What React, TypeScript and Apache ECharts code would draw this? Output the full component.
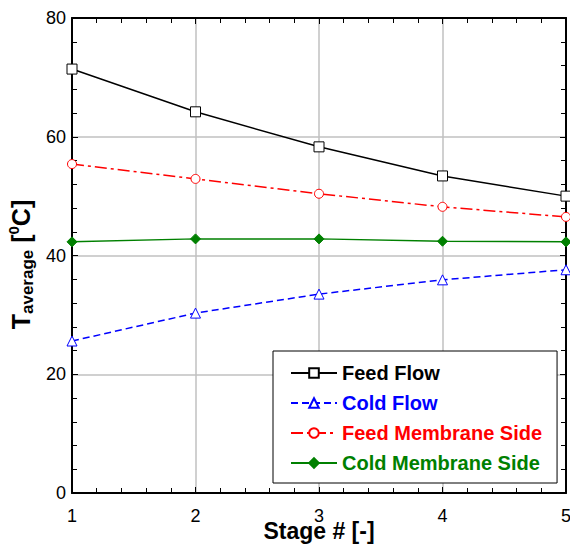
import React, { useEffect, useRef } from "react";
import * as echarts from "echarts";

const stages = [1, 2, 3, 4, 5];
const feedFlow = [71.4, 64.2, 58.3, 53.4, 50.0];
const coldFlow = [25.6, 30.3, 33.5, 35.9, 37.6];
const feedMembrane = [55.4, 52.9, 50.4, 48.2, 46.5];
const coldMembrane = [42.3, 42.8, 42.8, 42.4, 42.3];
const seriesNames = ["Feed Flow", "Cold Flow", "Feed Membrane Side", "Cold Membrane Side"];
const seriesColors = ["#000000", "#0000ff", "#ff0000", "#008000"];

const FONT = "Liberation Sans, Arial, sans-serif";

export default function App() {
  const ref = useRef<HTMLDivElement>(null);
  useEffect(() => {
    if (!ref.current) return;
    const chart = echarts.init(ref.current, undefined, { renderer: "svg" });
    const pairs = (ys: number[]) => stages.map((x, i) => [x, ys[i]]);
    const baseX = {
      type: "value",
      min: 1,
      max: 5,
      interval: 1,
      axisLine: { show: true, onZero: false, lineStyle: { color: "#000", width: 2 } },
      axisTick: { show: true, inside: true, length: 6, lineStyle: { color: "#000", width: 1 } },
      minorTick: { show: true, splitNumber: 5, length: 5, lineStyle: { color: "#000", width: 1 } },
    };
    const baseY = {
      type: "value",
      min: 0,
      max: 80,
      interval: 20,
      axisLine: { show: true, onZero: false, lineStyle: { color: "#000", width: 2 } },
      axisTick: { show: true, inside: true, length: 6, lineStyle: { color: "#000", width: 1 } },
      minorTick: { show: true, splitNumber: 5, length: 5, lineStyle: { color: "#000", width: 1 } },
    };
    const option: any = {
      animation: false,
      backgroundColor: "#fff",
      textStyle: { fontFamily: FONT },
      grid: { left: 72, right: 4, top: 18, bottom: 56, containLabel: false, outerBoundsMode: "none" },
      xAxis: [
        {
          ...baseX,
          position: "bottom",
          name: "Stage # [-]",
          nameLocation: "middle",
          nameGap: 26,
          nameMoveOverlap: false,
          nameTextStyle: { fontFamily: FONT, fontSize: 23, fontWeight: "bold", color: "#000" },
          axisLabel: { margin: 14, fontFamily: FONT, fontSize: 18, color: "#000" },
          splitLine: { show: true, lineStyle: { color: "#c0c0c0", width: 1.5 } },
        },
        {
          ...baseX,
          position: "top",
          axisLabel: { show: false },
          splitLine: { show: false },
        },
      ],
      yAxis: [
        {
          ...baseY,
          position: "left",
          name: "{t|T}{s|average}{t| [}{p|0}{t|C]}",
          nameLocation: "middle",
          nameRotate: 90,
          nameGap: 36,
          nameMoveOverlap: false,
          nameTextStyle: {
            fontFamily: FONT,
            color: "#000",
            padding: [0, 18, 0, 0],
            rich: {
              t: { fontFamily: FONT, fontSize: 25, fontWeight: "bold", lineHeight: 30, verticalAlign: "middle" },
              s: { fontFamily: FONT, fontSize: 17, fontWeight: "bold", lineHeight: 30, verticalAlign: "bottom", padding: [8, 0, 0, 0] },
              p: { fontFamily: FONT, fontSize: 15, fontWeight: "bold", lineHeight: 30, verticalAlign: "top", padding: [0, 0, 8, 0] },
            },
          },
          axisLabel: { margin: 6, fontFamily: FONT, fontSize: 18, color: "#000" },
          splitLine: { show: true, lineStyle: { color: "#c0c0c0", width: 1.5 } },
        },
        {
          ...baseY,
          position: "right",
          axisLabel: { show: false },
          splitLine: { show: false },
        },
      ],
      legend: {
        orient: "vertical",
        left: 273,
        top: 351,
        padding: [12, 15, 10, 17],
        itemGap: 10,
        itemWidth: 46,
        itemHeight: 12,
        backgroundColor: "#fff",
        borderColor: "#000",
        borderWidth: 1,
        textStyle: { fontFamily: FONT, fontSize: 20, fontWeight: "bold", lineHeight: 20 },
        data: seriesNames.map((n, i) => ({ name: n, textStyle: { color: seriesColors[i] } })),
      },
      series: [
        {
          name: seriesNames[0],
          type: "line",
          data: pairs(feedFlow),
          symbol: "rect",
          symbolSize: 10,
          lineStyle: { color: seriesColors[0], width: 1.5, type: "solid" },
          itemStyle: { color: "#fff", borderColor: seriesColors[0], borderWidth: 1 },
          z: 5,
        },
        {
          name: seriesNames[1],
          type: "line",
          data: pairs(coldFlow),
          symbol: "triangle",
          symbolSize: 10,
          lineStyle: { color: seriesColors[1], width: 1.5, type: [7, 4] },
          itemStyle: { color: "#fff", borderColor: seriesColors[1], borderWidth: 1 },
          z: 5,
        },
        {
          name: seriesNames[2],
          type: "line",
          data: pairs(feedMembrane),
          symbol: "circle",
          symbolSize: 9,
          lineStyle: { color: seriesColors[2], width: 1.5, type: [12, 4, 3, 4] },
          itemStyle: { color: "#fff", borderColor: seriesColors[2], borderWidth: 1 },
          z: 5,
        },
        {
          name: seriesNames[3],
          type: "line",
          data: pairs(coldMembrane),
          symbol: "diamond",
          symbolSize: 10,
          lineStyle: { color: seriesColors[3], width: 1.5, type: "solid" },
          itemStyle: { color: seriesColors[3], borderColor: seriesColors[3], borderWidth: 1 },
          z: 5,
        },
      ],
    };
    chart.setOption(option);
    return () => chart.dispose();
  }, []);
  return <div ref={ref} style={{ width: 570, height: 549, position: "absolute", left: 0, top: 0 }} />;
}
